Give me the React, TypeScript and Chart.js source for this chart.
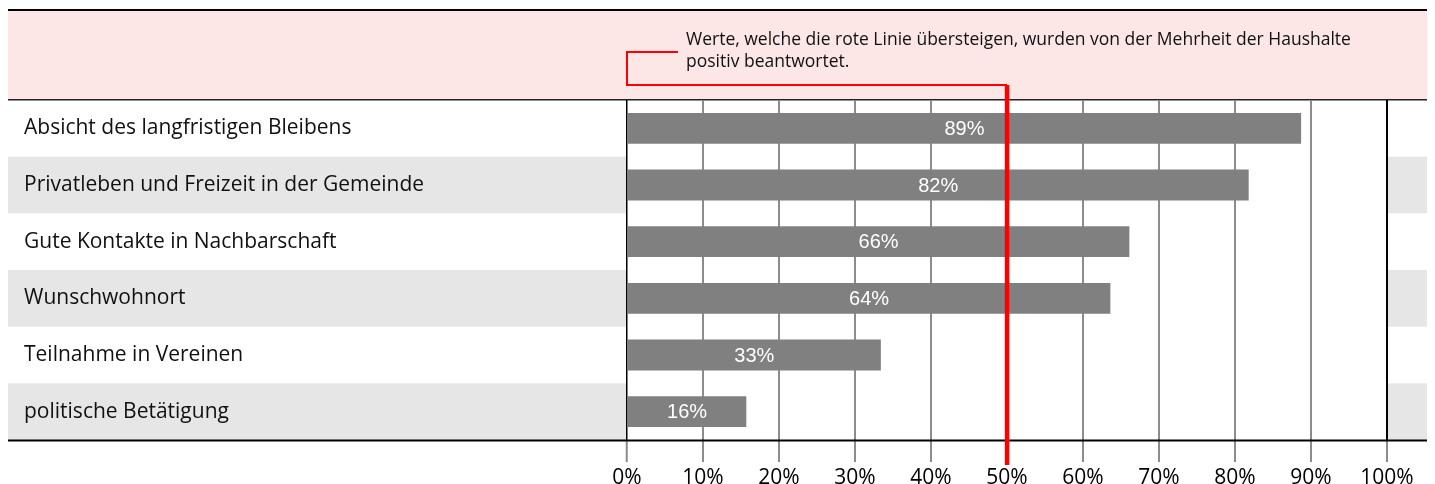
import React, { useEffect, useRef } from "react";
import { Chart, registerables } from "chart.js";

Chart.register(...registerables);

const categories = [
  "Absicht des langfristigen Bleibens",
  "Privatleben und Freizeit in der Gemeinde",
  "Gute Kontakte in Nachbarschaft",
  "Wunschwohnort",
  "Teilnahme in Vereinen",
  "politische Betätigung",
];
const values = [88.7, 81.8, 66.1, 63.6, 33.4, 15.7];
const valueLabels = ["89%", "82%", "66%", "64%", "33%", "16%"];
const xTickValues = [0, 10, 20, 30, 40, 50, 60, 70, 80, 90, 100];
const thresholdValue = 50;
const noteLines = [
  "Werte, welche die rote Linie übersteigen, wurden von der Mehrheit der Haushalte",
  "positiv beantwortet.",
];

const CAT_FONT = "'Open Sans', 'Noto Sans', sans-serif";
const NUM_FONT = "'Liberation Sans', Arial, sans-serif";

const decorPlugin = {
  id: "decor",
  beforeDraw(chart: any) {
    const { ctx, chartArea: ca, width } = chart;
    const yScale = chart.scales.y;
    ctx.save();
    // pink note band
    ctx.fillStyle = "#fde6e6";
    ctx.fillRect(0, 3, width, ca.top - 3);
    // alternating grey rows outside plot area
    const band = (ca.bottom - ca.top) / categories.length;
    ctx.fillStyle = "#e6e6e6";
    categories.forEach((_, i) => {
      if (i % 2 === 1) {
        const cy = yScale.getPixelForValue(i);
        ctx.fillRect(0, cy - band / 2, ca.left, band);
        ctx.fillRect(ca.right, cy - band / 2, width - ca.right, band);
      }
    });
    // top border lines
    ctx.fillStyle = "#000";
    ctx.fillRect(0, 1, width, 2);
    ctx.fillStyle = "#222";
    ctx.fillRect(0, ca.top - 1, width, 1.5);
    ctx.restore();
  },
  afterDatasetsDraw(chart: any) {
    const { ctx } = chart;
    const meta = chart.getDatasetMeta(0);
    ctx.save();
    ctx.fillStyle = "#ffffff";
    ctx.font = `20px ${NUM_FONT}`;
    ctx.textAlign = "center";
    ctx.textBaseline = "middle";
    meta.data.forEach((bar: any, i: number) => {
      const p = bar.getProps(["x", "y", "base"], true);
      ctx.fillText(valueLabels[i], (p.x + p.base) / 2, p.y + 1);
    });
    ctx.restore();
  },
  afterDraw(chart: any) {
    const { ctx, chartArea: ca, width } = chart;
    const xScale = chart.scales.x;
    ctx.save();
    // bottom axis line full width
    ctx.fillStyle = "#000";
    ctx.fillRect(0, ca.bottom - 0.5, width, 2);
    // red threshold line
    const xT = xScale.getPixelForValue(thresholdValue);
    const x0 = xScale.getPixelForValue(0);
    ctx.strokeStyle = "#ff0000";
    ctx.lineWidth = 4.5;
    ctx.beginPath();
    ctx.moveTo(xT, ca.top - 15);
    ctx.lineTo(xT, ca.bottom + 25);
    ctx.stroke();
    // connector
    ctx.lineWidth = 2;
    ctx.beginPath();
    ctx.moveTo(xT, ca.top - 15);
    ctx.lineTo(x0, ca.top - 15);
    ctx.lineTo(x0, ca.top - 48);
    ctx.lineTo(x0 + 51, ca.top - 48);
    ctx.stroke();
    // note text
    ctx.fillStyle = "#111";
    ctx.font = `17.5px ${CAT_FONT}`;
    ctx.textAlign = "left";
    ctx.textBaseline = "alphabetic";
    ctx.fillText(noteLines[0], x0 + 59, ca.top - 55);
    ctx.fillText(noteLines[1], x0 + 59, ca.top - 33);
    ctx.restore();
  },
};

export default function App() {
  const ref = useRef<HTMLCanvasElement | null>(null);
  useEffect(() => {
    document.documentElement.style.overflow = "hidden";
    document.body.style.overflow = "hidden";
    if (!ref.current) return;
    const chart = new Chart(ref.current, {
      type: "bar",
      data: {
        labels: categories,
        datasets: [
          {
            data: values,
            backgroundColor: "#808080",
            borderWidth: 0,
            barPercentage: 0.545,
            categoryPercentage: 1,
          },
        ],
      },
      options: {
        indexAxis: "y",
        animation: false,
        responsive: false,
        maintainAspectRatio: false,
        layout: { padding: { left: 16, right: 64, top: 92, bottom: 0 } },
        plugins: {
          legend: { display: false },
          tooltip: { enabled: false },
        },
        scales: {
          x: {
            type: "linear",
            min: 0,
            max: 100,
            afterBuildTicks: (scale: any) => {
              scale.ticks = xTickValues.map((v) => ({ value: v }));
            },
            afterFit: (scale: any) => {
              scale.height = 58;
            },
            ticks: {
              callback: (v: any) => `${v}%`,
              color: "#000",
              font: { family: CAT_FONT, size: 21 },
              padding: 3,
              maxRotation: 0,
              autoSkip: false,
            },
            grid: {
              color: (c: any) =>
                c.tick && (c.tick.value === 0 || c.tick.value === 100) ? "#000" : "#8c8c8c",
              lineWidth: (c: any) => (c.tick && c.tick.value === 0 ? 1.5 : 2),
              tickColor: "#8c8c8c",
              tickWidth: 2,
              tickLength: 22,
              drawTicks: true,
            },
            border: { display: false },
          },
          y: {
            type: "category",
            afterFit: (scale: any) => {
              scale.width = 603;
            },
            ticks: {
              crossAlign: "far",
              color: "#111",
              font: { family: CAT_FONT, size: 21 },
              autoSkip: false,
            },
            grid: { display: false },
            border: { display: false },
          },
        },
      },
      plugins: [decorPlugin],
    });
    return () => chart.destroy();
  }, []);
  return (
    <div style={{ width: 1443, height: 490 }}>
      <canvas ref={ref} width={1443} height={490} style={{ display: "block" }} />
    </div>
  );
}
